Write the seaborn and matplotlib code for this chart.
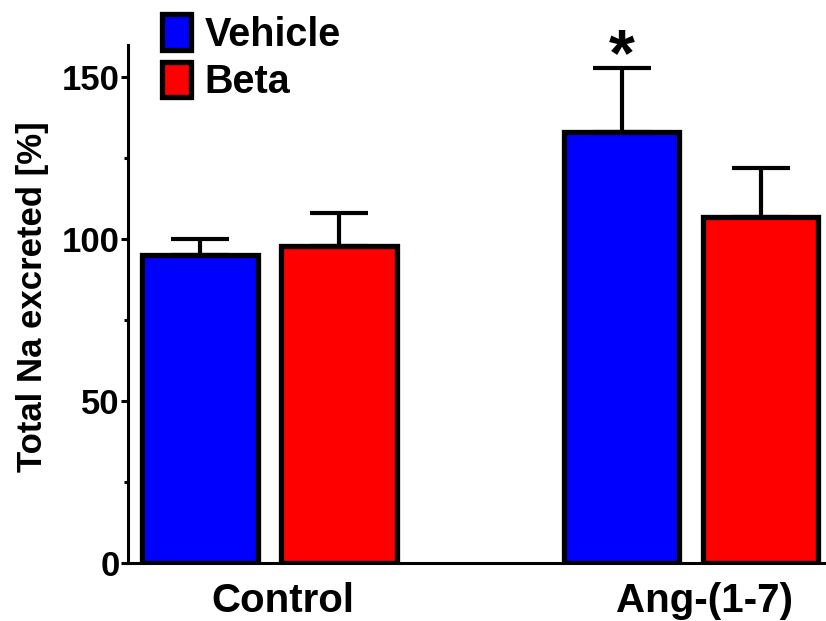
import matplotlib
matplotlib.use("Agg")
import matplotlib.pyplot as plt
import matplotlib.transforms as mtransforms
import seaborn as sns
import pandas as pd
from matplotlib.ticker import MultipleLocator
from matplotlib.patches import Patch

groups = ["Control", "Ang-(1-7)"]
treatments = ["Vehicle", "Beta"]
vehicle_mean = [95, 133]
beta_mean = [98, 107]
vehicle_err = [5, 20]
beta_err = [10, 15]

df = pd.DataFrame({
    "group": groups * 2,
    "treatment": ["Vehicle"] * 2 + ["Beta"] * 2,
    "value": vehicle_mean + beta_mean,
})
errs = {"Vehicle": vehicle_err, "Beta": beta_err}
colors = {"Vehicle": "#0000ff", "Beta": "#ff0000"}

sns.set_style("ticks")
plt.rcParams["font.family"] = ["Liberation Sans", "DejaVu Sans"]
plt.rcParams["font.weight"] = "bold"
for k in ["text.color", "axes.labelcolor", "xtick.color", "ytick.color", "axes.edgecolor"]:
    plt.rcParams[k] = "black"

fig = plt.figure(figsize=(8.26, 6.21), dpi=100)
ax = fig.add_axes([0.155, 0.0934, 0.845, 0.834])

sns.barplot(data=df, x="group", y="value", hue="treatment", order=groups,
            hue_order=treatments, palette=colors,
            width=0.66, gap=0.17, edgecolor="black", linewidth=3.8,
            saturation=1, errorbar=None, ax=ax, legend=False)

# upper-only error bars, plus the significance star
for cont, t in zip(ax.containers, treatments):
    for i, bar in enumerate(cont):
        e = errs[t][i]
        xc = bar.get_x() + bar.get_width() / 2
        h = bar.get_height()
        ax.errorbar(xc, h, yerr=[[0], [e]], fmt="none", ecolor="black",
                    elinewidth=3, capsize=21, capthick=3, zorder=1)
        if t == "Vehicle" and groups[i] == "Ang-(1-7)":
            ax.text(xc, h + e - 6.5, "*", ha="center", va="bottom",
                    fontsize=48, fontweight="bold", clip_on=False)

ax.set_ylim(0, 160)
ax.set_xlim(-0.336, 1.32)
ax.yaxis.set_major_locator(MultipleLocator(50))
ax.yaxis.set_minor_locator(MultipleLocator(25))
ax.tick_params(axis="y", which="major", length=5, width=2.2, labelsize=25, pad=1)
ax.tick_params(axis="y", which="minor", length=3, width=2.2)
ax.tick_params(axis="x", length=0, labelsize=29, pad=14)
shift = mtransforms.ScaledTranslation(0.13, 0, fig.dpi_scale_trans)
for lab in ax.get_xticklabels():
    lab.set_fontweight("bold")
    lab.set_transform(lab.get_transform() + shift)
for lab in ax.get_yticklabels():
    lab.set_fontweight("bold")
ax.set_xlabel("")
ax.set_ylabel("Total Na excreted [%]", fontsize=25, fontweight="bold")
ax.yaxis.set_label_coords(-0.113, 0.515)

sns.despine(ax=ax)
for s in ["left", "bottom"]:
    ax.spines[s].set_linewidth(2.2)

handles = [Patch(facecolor=colors[t], edgecolor="black", linewidth=3.8) for t in treatments]
fig.legend(handles, treatments, loc="upper left", bbox_to_anchor=(0.1967, 0.977),
           frameon=False, handlelength=0.72, handleheight=1.0,
           handletextpad=0.34, labelspacing=0.21, borderpad=0, borderaxespad=0,
           prop={"weight": "bold", "size": 28.5})

fig.savefig("out.png", dpi=100)
